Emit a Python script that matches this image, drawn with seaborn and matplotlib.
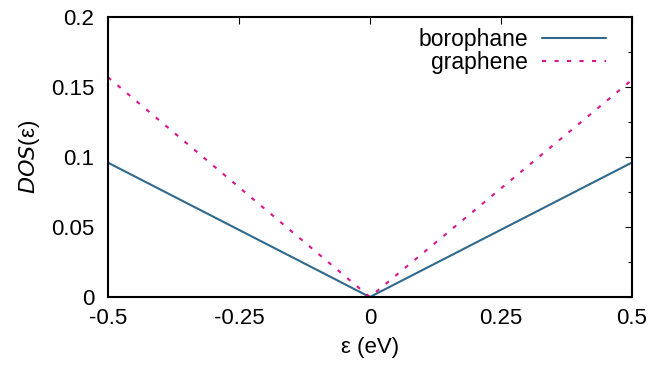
import matplotlib
matplotlib.use("Agg")
import matplotlib.pyplot as plt
import seaborn as sns
import pandas as pd
from matplotlib.ticker import MultipleLocator

energy = [-0.5, 0.0, 0.5]
dos_borophane = [0.096, 0.0, 0.096]
dos_graphene = [0.157, 0.0, 0.155]
x_ticks = [-0.5, -0.25, 0, 0.25, 0.5]
x_tick_labels = ["-0.5", "-0.25", "0", "0.25", "0.5"]
y_ticks = [0, 0.05, 0.1, 0.15, 0.2]
y_tick_labels = ["0", "0.05", "0.1", "0.15", "0.2"]

sns.set_theme(style="white")
plt.rcParams['font.family'] = ['Liberation Sans', 'DejaVu Sans']
plt.rcParams['text.color'] = 'black'
plt.rcParams['axes.labelcolor'] = 'black'
plt.rcParams['xtick.color'] = 'black'
plt.rcParams['ytick.color'] = 'black'

fig = plt.figure(figsize=(6.5, 3.69), dpi=100)
ax = fig.add_axes([0.166, 0.195, 0.806, 0.759])

df_b = pd.DataFrame({"e": energy, "d": dos_borophane})
df_g = pd.DataFrame({"e": energy, "d": dos_graphene})
sns.lineplot(data=df_b, x="e", y="d", ax=ax, color="#2f6a8c", lw=1.5, label="borophane")
sns.lineplot(data=df_g, x="e", y="d", ax=ax, color="#d9168c", lw=1.5,
             linestyle=(0, (2, 4)), label="graphene")

ax.set_xlim(-0.5, 0.5)
ax.set_ylim(0, 0.2)
ax.set_xticks(x_ticks)
ax.set_xticklabels(x_tick_labels)
ax.set_yticks(y_ticks)
ax.set_yticklabels(y_tick_labels)
ax.yaxis.set_minor_locator(MultipleLocator(0.025))
ax.tick_params(axis='both', which='both', direction='in', top=True, right=True,
               labelsize=16, color='black')
ax.tick_params(which='major', length=5, width=0.8)
ax.tick_params(axis='y', which='major', pad=10)
ax.tick_params(axis='x', which='major', pad=8)
ax.tick_params(which='minor', length=3, width=0.8)
for s in ax.spines.values():
    s.set_color('black')
    s.set_linewidth(1.5)

ax.set_xlabel("ε (eV)", fontsize=16, labelpad=6)
ax.set_ylabel("$DOS$(ε)", fontsize=16, labelpad=6)

leg = ax.legend(loc='upper right', frameon=False, fontsize=16.5, markerfirst=False,
                handlelength=2.8, handletextpad=0.6, borderaxespad=0.1,
                labelspacing=0.0, bbox_to_anchor=(0.973, 1.0))

fig.savefig("out.png", dpi=100)
